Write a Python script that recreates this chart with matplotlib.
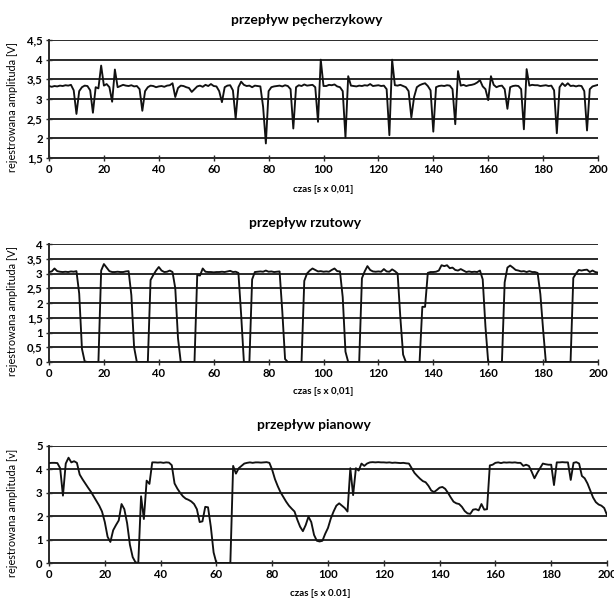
import matplotlib
matplotlib.use("Agg")
import matplotlib.pyplot as plt
import numpy as np

time = list(range(0, 201))

bubbly = [
    3.33, 3.31, 3.33, 3.32, 3.34, 3.33, 3.35, 3.34, 3.36, 3.22,
    2.62, 3.20, 3.30, 3.34, 3.33, 3.22, 2.65, 3.30, 3.27, 3.85,
    3.34, 3.38, 3.30, 2.93, 3.75, 3.30, 3.33, 3.36, 3.34, 3.33,
    3.35, 3.32, 3.33, 3.25, 2.70, 3.20, 3.30, 3.34, 3.33, 3.30,
    3.32, 3.33, 3.31, 3.34, 3.35, 3.40, 3.05, 3.28, 3.34, 3.33,
    3.30, 3.28, 3.18, 3.25, 3.32, 3.34, 3.31, 3.36, 3.33, 3.38,
    3.33, 3.32, 3.20, 2.92, 3.30, 3.34, 3.35, 3.22, 2.50, 3.30,
    3.44, 3.36, 3.33, 3.34, 3.30, 3.34, 3.33, 3.32, 2.80, 1.87,
    3.20, 3.30, 3.32, 3.33, 3.34, 3.32, 3.35, 3.33, 3.25, 2.25,
    3.30, 3.35, 3.33, 3.37, 3.34, 3.35, 3.36, 3.30, 2.42, 4.00,
    3.33, 3.33, 3.36, 3.35, 3.37, 3.32, 3.30, 3.20, 2.02, 3.58,
    3.34, 3.33, 3.32, 3.34, 3.33, 3.35, 3.34, 3.38, 3.33, 3.34,
    3.35, 3.33, 3.34, 3.25, 2.08, 4.00, 3.35, 3.34, 3.36, 3.33,
    3.30, 3.20, 2.53, 3.05, 3.30, 3.35, 3.38, 3.40, 3.33, 3.22,
    2.17, 3.30, 3.33, 3.34, 3.33, 3.35, 3.34, 3.25, 2.36, 3.71,
    3.34, 3.36, 3.33, 3.35, 3.36, 3.38, 3.42, 3.48, 3.32, 3.25,
    2.97, 3.58, 3.36, 3.30, 3.33, 3.34, 3.25, 2.75, 3.30, 3.33,
    3.34, 3.33, 3.25, 2.23, 3.76, 3.34, 3.36, 3.35, 3.35, 3.33,
    3.34, 3.35, 3.33, 3.34, 3.22, 2.13, 3.30, 3.40, 3.33, 3.40,
    3.33, 3.34, 3.32, 3.34, 3.33, 3.20, 2.20, 3.25, 3.32, 3.34,
    3.36,
]

slug = [
    3.05, 3.07, 3.17, 3.08, 3.06, 3.05, 3.06, 3.05, 3.07, 3.06,
    3.08, 2.32, 0.45, 0.02, 0.00, 0.00, 0.00, 0.00, 0.00, 3.10,
    3.32, 3.20, 3.08, 3.05, 3.05, 3.06, 3.05, 3.05, 3.07, 3.08,
    2.27, 0.50, 0.00, 0.00, 0.00, 0.00, 0.00, 2.78, 2.95, 3.10,
    3.22, 3.10, 3.05, 3.06, 3.10, 3.05, 2.50, 0.80, 0.00, 0.00,
    0.00, 0.00, 0.00, 0.00, 2.95, 2.93, 3.17, 3.06, 3.05, 3.05,
    3.04, 3.05, 3.05, 3.06, 3.05, 3.07, 3.09, 3.05, 3.06, 3.02,
    1.60, 0.00, 0.00, 0.00, 2.80, 3.05, 3.06, 3.07, 3.06, 3.10,
    3.06, 3.07, 3.05, 3.06, 3.07, 1.70, 0.10, 0.00, 0.00, 0.00,
    0.00, 0.00, 0.00, 2.75, 3.00, 3.10, 3.17, 3.12, 3.07, 3.08,
    3.06, 3.07, 3.06, 3.12, 3.17, 3.08, 3.07, 2.20, 0.35, 0.00,
    0.00, 0.00, 0.00, 0.00, 2.84, 3.07, 3.25, 3.12, 3.07, 3.06,
    3.07, 3.06, 3.15, 3.07, 3.06, 3.14, 3.08, 3.00, 1.50, 0.25,
    0.00, 0.00, 0.00, 0.00, 0.00, 0.00, 1.87, 1.87, 3.02, 3.05,
    3.05, 3.06, 3.10, 3.28, 3.25, 3.28, 3.18, 3.20, 3.12, 3.10,
    3.15, 3.10, 3.05, 3.07, 3.05, 3.06, 3.05, 3.10, 2.80, 1.20,
    0.00, 0.00, 0.00, 0.00, 0.00, 0.00, 2.70, 3.20, 3.27, 3.20,
    3.12, 3.10, 3.07, 3.08, 3.05, 3.08, 3.05, 3.05, 3.02, 2.30,
    1.10, 0.00, 0.00, 0.00, 0.00, 0.00, 0.00, 0.00, 0.00, 0.00,
    0.00, 2.85, 3.00, 3.12, 3.10, 3.12, 3.13, 3.05, 3.10, 3.05,
    3.03,
]

foam = [
    4.27, 4.28, 4.28, 4.27, 4.05, 2.88, 4.25, 4.50, 4.30, 4.35,
    4.28, 3.78, 3.58, 3.40, 3.22, 3.05, 2.85, 2.65, 2.45, 2.20,
    1.75, 1.12, 0.90, 1.40, 1.62, 1.82, 2.52, 2.30, 1.70, 0.78,
    0.25, 0.03, 0.00, 2.85, 1.88, 3.52, 3.38, 4.30, 4.30, 4.29,
    4.30, 4.28, 4.30, 4.29, 4.18, 3.40, 3.18, 3.00, 2.85, 2.75,
    2.70, 2.63, 2.52, 2.30, 1.75, 1.78, 2.40, 2.38, 1.55, 0.45,
    0.00, 0.00, 0.00, 0.00, 0.00, 0.00, 4.15, 3.82, 4.05, 4.15,
    4.25, 4.28, 4.30, 4.28, 4.30, 4.30, 4.29, 4.30, 4.31, 4.28,
    3.98, 3.58, 3.28, 3.02, 2.82, 2.62, 2.45, 2.32, 2.20, 1.85,
    1.55, 1.36, 1.62, 1.98, 1.75, 1.20, 0.95, 0.92, 0.95, 1.25,
    1.50, 1.90, 2.20, 2.45, 2.55, 2.45, 2.35, 2.20, 4.05, 2.90,
    4.05, 3.95, 4.25, 4.15, 4.25, 4.30, 4.31, 4.30, 4.31, 4.30,
    4.30, 4.29, 4.30, 4.28, 4.29, 4.28, 4.27, 4.28, 4.26, 4.25,
    4.05, 3.85, 3.72, 3.60, 3.50, 3.45, 3.30, 3.10, 3.03, 3.12,
    3.22, 3.25, 3.17, 3.00, 2.80, 2.62, 2.55, 2.52, 2.40, 2.22,
    2.12, 2.10, 2.28, 2.30, 2.25, 2.52, 2.28, 2.30, 4.17, 4.20,
    4.28, 4.30, 4.27, 4.30, 4.29, 4.30, 4.29, 4.30, 4.28, 4.28,
    4.15, 4.20, 4.15, 3.90, 3.62, 3.85, 4.05, 4.25, 4.22, 4.20,
    4.20, 3.33, 4.30, 4.30, 4.31, 4.30, 4.30, 3.55, 4.28, 4.31,
    4.25, 3.72, 3.62, 3.40, 3.10, 2.80, 2.60, 2.50, 2.45, 2.35,
    2.05,
]

titles = ["przepływ pęcherzykowy", "przepływ rzutowy", "przepływ pianowy"]
ylabels = ["rejestrowana amplituda [V]", "rejestrowana amplituda [V]", "rejestrowana amplituda [v]"]
xlabels = ["czas [s x 0,01]", "czas [s x 0,01]", "czas [s x 0.01]"]
yticks_list = [
    [1.5, 2, 2.5, 3, 3.5, 4, 4.5],
    [0, 0.5, 1, 1.5, 2, 2.5, 3, 3.5, 4],
    [0, 1, 2, 3, 4, 5],
]
xticks = [0, 20, 40, 60, 80, 100, 120, 140, 160, 180, 200]

FONT = "Lato"
W, H = 614, 598
fig = plt.figure(figsize=(W / 100, H / 100), dpi=100)

def fx(px):
    return px / W

def fy(py):
    return 1 - py / H

# pixel boxes: left, right, top, bottom
boxes = [(49, 598, 40, 158), (49, 598, 244, 362), (49, 607, 446, 563)]
title_y = [20, 223, 425]
title_x = [307, 305, 314]
xlabel_y = [190, 392, 594]
xlabel_x = [323, 323, 320]

series = [bubbly, slug, foam]

def fmt(v):
    return ("%g" % v).replace(".", ",")

for i in range(3):
    l, r, t, b = boxes[i]
    ax = fig.add_axes([fx(l), fy(b), fx(r - l), (b - t) / H])
    ax.plot(time, series[i], color="#111111", lw=1.35, zorder=3)
    yt = yticks_list[i]
    ax.set_ylim(yt[0], yt[-1])
    ax.set_xlim(0, 200)
    ax.set_yticks(yt)
    ax.set_yticklabels([fmt(v) for v in yt])
    ax.set_xticks(xticks)
    ax.set_xticklabels([str(v) for v in xticks])
    for v in yt:
        ax.axhline(v, color="#2a2a2a", lw=1.4, zorder=1)
    for side in ["top", "right"]:
        ax.spines[side].set_visible(False)
    ax.spines["left"].set_color("#2a2a2a")
    ax.spines["bottom"].set_color("#2a2a2a")
    ax.spines["left"].set_linewidth(1.4)
    ax.spines["bottom"].set_linewidth(1.4)
    ax.tick_params(axis="both", direction="inout", length=5, width=1.0, color="#2a2a2a",
                   labelsize=8.2, pad=2)
    for lab in ax.get_xticklabels() + ax.get_yticklabels():
        lab.set_fontfamily(FONT)
        lab.set_fontweight("bold")
    fig.text(fx(title_x[i]), fy(title_y[i]), titles[i], ha="center", va="center",
             fontsize=10, fontweight="bold", family=FONT)
    fig.text(fx(xlabel_x[i]), fy(xlabel_y[i]), xlabels[i], ha="center", va="center",
             fontsize=7, fontweight="bold", family=FONT)
    fig.text(fx(13), fy((t + b) / 2 + 8), ylabels[i], ha="center", va="center",
             rotation=90, fontsize=7.8, family=FONT)

fig.savefig("out.png", dpi=100)
